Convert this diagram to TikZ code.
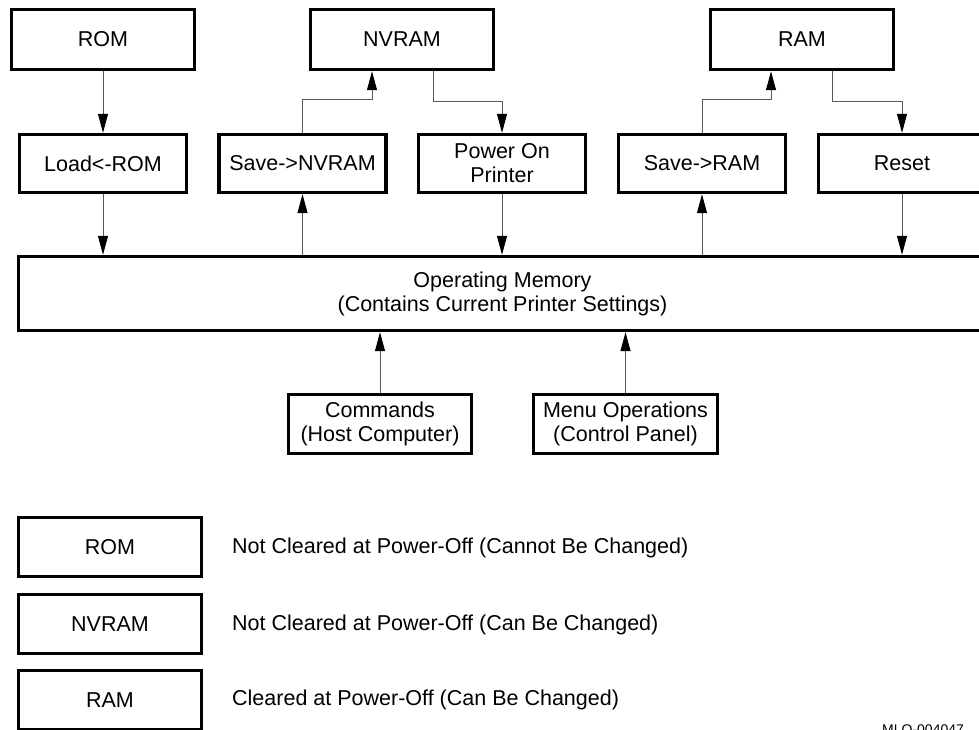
\documentclass[tikz,border=0pt]{standalone}
\usepackage{fontspec}
\setmainfont{Liberation Sans}
\usetikzlibrary{arrows.meta}
\begin{document}
\begin{tikzpicture}[x=1pt,y=-1pt,
  box/.style={draw=black,line width=3.4pt,rectangle,inner sep=0pt,align=center,
    font=\fontsize{21.5}{24}\selectfont},
  bigbox/.style={box,minimum width=183pt,minimum height=60pt},
  midbox/.style={box,minimum width=167pt,minimum height=58pt},
  arr/.style={draw=black!65,line width=1pt,-{Triangle[width=10pt,length=19pt,black]}},
  legtext/.style={anchor=west,inner sep=0pt,font=\fontsize{21.5}{24}\selectfont}]
\useasboundingbox (0,0) rectangle (979,729);
\clip (0,0) rectangle (979,729);
% top row
\node[bigbox] (rom) at (103,39.5) {ROM};
\node[bigbox] (nv) at (402,39.5) {NVRAM};
\node[bigbox] (ram) at (802,39.5) {RAM};
% second row
\node[midbox] (load) at (103,163.5) {Load<-ROM};
\node[midbox] (snv) at (302.5,163.5) {Save->NVRAM};
\node[midbox] (pon) at (502,163.5) {Power On\\Printer};
\node[midbox] (sram) at (702,163.5) {Save->RAM};
\node[midbox] (reset) at (902,163.5) {Reset};
% operating memory
\node[box,minimum width=968pt,minimum height=74pt] (om) at (502.5,293.5)
  {Operating Memory\\(Contains Current Printer Settings)};
% inputs
\node[box,minimum width=183pt,minimum height=59pt] (cmd) at (380,424) {Commands\\(Host Computer)};
\node[box,minimum width=184pt,minimum height=59pt] (menu) at (625.5,424) {Menu Operations\\(Control Panel)};
% connectors
\draw[arr] (rom.south) -- (load.north);
\draw[arr] (snv.north) -- ++(0,-33) -| ([xshift=-30pt]nv.south);
\draw[arr] ([xshift=31pt]nv.south) -- ++(0,30) -| (pon.north);
\draw[arr] (sram.north) -- ++(0,-33) -| ([xshift=-31pt]ram.south);
\draw[arr] ([xshift=30pt]ram.south) -- ++(0,30) -| (reset.north);
\draw[arr] (load.south) -- (load.south |- om.north);
\draw[arr] (snv.south |- om.north) -- (snv.south);
\draw[arr] (pon.south) -- (pon.south |- om.north);
\draw[arr] (sram.south |- om.north) -- (sram.south);
\draw[arr] (reset.south) -- (reset.south |- om.north);
\draw[arr] (cmd.north) -- (cmd.north |- om.south);
\draw[arr] (menu.north) -- (menu.north |- om.south);
% legend
\node[box,minimum width=183pt,minimum height=59pt] (lrom) at (110,547) {ROM};
\node[box,minimum width=183pt,minimum height=59pt] (lnv) at (110,624) {NVRAM};
\node[box,minimum width=183pt,minimum height=59pt] (lram) at (110,700) {RAM};
\node[legtext] (trom) at (232,548) {Not Cleared at Power-Off (Cannot Be Changed)};
\node[legtext] (tnv) at (232,625) {Not Cleared at Power-Off (Can Be Changed)};
\node[legtext] (tram) at (232,700) {Cleared at Power-Off (Can Be Changed)};
\node[anchor=north west,inner sep=0pt,font=\fontsize{14}{16}\selectfont] (fig) at (882,725) {MLO-004047};
\end{tikzpicture}
\end{document}
